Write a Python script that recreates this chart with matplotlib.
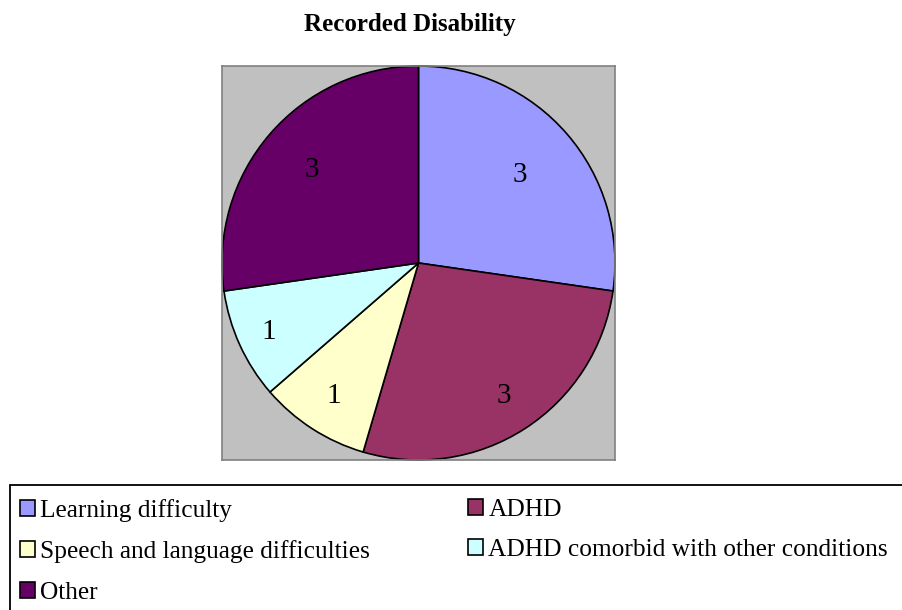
import numpy as np
import matplotlib
matplotlib.use("Agg")
import matplotlib.pyplot as plt
from matplotlib.patches import Patch, Rectangle

categories = ["Learning difficulty", "ADHD", "Speech and language difficulties",
              "ADHD comorbid with other conditions", "Other"]
values = [3, 3, 1, 1, 3]
colors = ["#9999FF", "#993366", "#FFFFCC", "#CCFFFF", "#660066"]
label_dist = [0.68, 0.80, 0.80, 0.84, 0.72]
title = "Recorded Disability"

plt.rcParams['font.family'] = ['Liberation Serif', 'DejaVu Serif']
SERIF = ['Liberation Serif', 'DejaVu Serif']

W, H = 902, 610
fig = plt.figure(figsize=(W / 100, H / 100), dpi=100)
fig.patch.set_facecolor("white")

ax = fig.add_axes([222 / W, 1 - 460 / H, 393 / W, 394 / H])
wedges, _ = ax.pie(values, colors=colors, startangle=90, counterclock=False,
                   radius=1.0, wedgeprops=dict(edgecolor="black", linewidth=1.2))
ax.set_xlim(-1.0, 1.0)
ax.set_ylim(-1.0, 1.0)
ax.set_aspect("auto")
ax.set_frame_on(True)
ax.patch.set_visible(True)
ax.set_facecolor("#C0C0C0")
ax.set_xticks([])
ax.set_yticks([])
for s in ax.spines.values():
    s.set_visible(True)
    s.set_edgecolor("#808080")
    s.set_linewidth(1.2)

for w, v, d in zip(wedges, values, label_dist):
    ang = np.deg2rad((w.theta1 + w.theta2) / 2)
    ax.text(d * np.cos(ang), d * np.sin(ang), str(v), ha="center", va="center",
            fontsize=21, color="black", family=SERIF)

fig.text(410 / W, 1 - 31 / H, title, ha="center", va="baseline",
         fontsize=18, fontweight="bold", family=SERIF)

# legend frame
fig.add_artist(Rectangle((10 / W, -0.05), 1.2, (610 - 485) / H + 0.05,
                         transform=fig.transFigure, facecolor="none",
                         edgecolor="black", linewidth=1.3))

handles = [Patch(facecolor=c, edgecolor="black", linewidth=1.2) for c in colors]
col1 = [0, 2, 4]
col2 = [1, 3]
common = dict(frameon=False, prop=dict(family=SERIF, size=18.3),
              handlelength=0.58, handleheight=0.58,
              handletextpad=0.22, labelspacing=0.72, borderpad=0, borderaxespad=0)
fig.legend([handles[i] for i in col1], [categories[i] for i in col1],
           loc="upper left", bbox_to_anchor=(20 / W, 1 - 499 / H), **common)
fig.legend([handles[i] for i in col2], [categories[i] for i in col2],
           loc="upper left", bbox_to_anchor=(468 / W, 1 - 499 / H), **common)

fig.savefig("out.png", dpi=100)
